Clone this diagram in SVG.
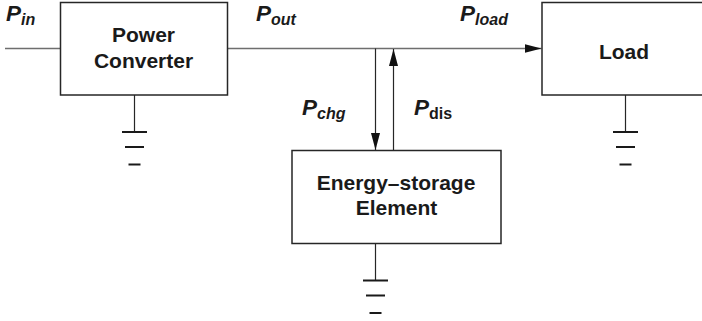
<svg xmlns="http://www.w3.org/2000/svg" width="702" height="321" viewBox="0 0 702 321">
<style>
.box{fill:#fff;stroke:#262626;stroke-width:1.5}
.wire{fill:none;stroke:#6e6e6e;stroke-width:1.3}
.stem{fill:none;stroke:#262626;stroke-width:1.2}
.bar{fill:none;stroke:#1a1a1a;stroke-width:2}
text{font-family:"Liberation Sans",Arial,sans-serif;font-weight:bold;fill:#1a1a1a}
.t{font-size:21px;text-anchor:middle}
.p{font-size:22.5px;font-style:italic}
.s{font-size:16px}
</style>
<defs>
<marker id="ah" markerUnits="userSpaceOnUse" markerWidth="18" markerHeight="10" refX="17" refY="4.500" orient="auto"><path d="M0 0L17 4.500L0 9Z" fill="#111"/></marker>
<g id="gnd"><path class="stem" d="M0 0V37"/><path class="bar" d="M-12.500 37H12.500M-9.500 52H9.500M-6 69.500H6"/></g>
</defs>
<g id="connectors">
<path class="wire" d="M5 48.500H60"/>
<path class="wire" d="M227 48.500H541.500" marker-end="url(#ah)"/>
<path class="stem" d="M375.500 48.500V150" marker-end="url(#ah)"/>
<path class="stem" d="M393.500 150V49" marker-end="url(#ah)"/>
</g>
<g id="power-converter"><rect class="box" x="60.500" y="2.500" width="167" height="92.500"/><text class="t" x="143.500" y="41.500">Power</text><text class="t" x="143.500" y="67.500">Converter</text><use href="#gnd" x="134.500" y="95"/></g>
<g id="load"><rect class="box" x="542" y="2.500" width="170" height="92.500"/><text class="t" x="624" y="58.500">Load</text><use href="#gnd" x="625.500" y="95"/></g>
<g id="energy-storage"><rect class="box" x="292" y="150.500" width="209" height="93"/><text class="t" x="396" y="190">Energy–storage</text><text class="t" x="396.500" y="215">Element</text><use href="#gnd" x="375.500" y="243.500"/></g>
<g id="labels">
<text class="p" x="6" y="21">P<tspan class="s" dy="4">in</tspan></text>
<text class="p" x="256" y="21">P<tspan class="s" dy="4">out</tspan></text>
<text class="p" x="460" y="21">P<tspan class="s" dy="4">load</tspan></text>
<text class="p" x="302" y="115">P<tspan class="s" dy="4">chg</tspan></text>
<text class="p" x="414" y="115">P<tspan class="s" dy="4" font-style="normal">dis</tspan></text>
</g>
</svg>
